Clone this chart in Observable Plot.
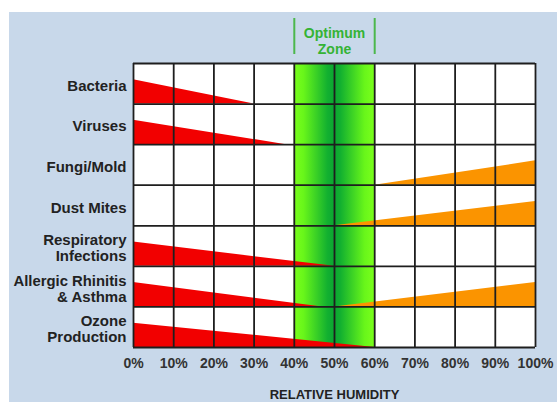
<!DOCTYPE html>
<html>
<head>
<meta charset="utf-8">
<script src="https://cdn.jsdelivr.net/npm/d3@7"></script>
<script src="https://cdn.jsdelivr.net/npm/@observablehq/plot@0.6"></script>
<style>
  html, body { margin: 0; padding: 0; background: #ffffff; overflow: hidden; width: 557px; height: 402px; }
  #wrap { position: absolute; left: 9px; top: 12px; width: 548px; height: 390px; background: #c8d8ea; }
  #wrap svg { display: block; }
</style>
</head>
<body>
<div id="wrap"></div>
<script>
// ---- data ----
const categories = [
  "Bacteria",
  "Viruses",
  "Fungi/Mold",
  "Dust Mites",
  "Respiratory\nInfections",
  "Allergic Rhinitis\n& Asthma",
  "Ozone\nProduction"
];
const humidityTicks = [0, 10, 20, 30, 40, 50, 60, 70, 80, 90, 100];
const tickLabels = ["0%", "10%", "20%", "30%", "40%", "50%", "60%", "70%", "80%", "90%", "100%"];
// red wedge: full at 0% RH, shrinking to nothing at this RH (null = none)
const lowHumidityEnd = [30, 38, null, null, 50, 47, 60];
// orange wedge: nothing at this RH, growing to full at 100% RH (null = none)
const highHumidityStart = [null, null, 60, 50, null, 50, null];
const optimumZone = [40, 60];
const zoneLabel = "Optimum\nZone";
const axisTitle = "RELATIVE HUMIDITY";

// ---- build wedge table ----
const WEDGE = 0.6; // share of a row filled at full effect
const wedges = [];
categories.forEach((c, i) => {
  if (lowHumidityEnd[i] != null) {
    wedges.push({key: "low" + i, kind: "low", x: 0, y1: i + 1, y2: i + 1 - WEDGE});
    wedges.push({key: "low" + i, kind: "low", x: lowHumidityEnd[i], y1: i + 1, y2: i + 1});
  }
  if (highHumidityStart[i] != null) {
    wedges.push({key: "high" + i, kind: "high", x: highHumidityStart[i], y1: i + 1, y2: i + 1});
    wedges.push({key: "high" + i, kind: "high", x: 100, y1: i + 1, y2: i + 1 - WEDGE});
  }
});
const rowLines = d3.range(categories.length + 1);
const FONT = "'Liberation Sans', Arial, Helvetica, sans-serif";

const plot = Plot.plot({
  width: 548,
  height: 390,
  marginLeft: 124,
  marginRight: 22,
  marginTop: 51,
  marginBottom: 55,
  style: {background: "transparent", fontFamily: FONT, fontWeight: "bold", overflow: "visible"},
  x: {domain: [0, 100], axis: null},
  y: {domain: [categories.length, 0], axis: null},
  marks: [
    Plot.frame({fill: "white", stroke: "none"}),
    Plot.rect([optimumZone], {x1: d => d[0], x2: d => d[1], fill: "url(#optimumGrad)"}),
    Plot.area(wedges, {
      x1: "x", y1: "y1", y2: "y2", z: "key", curve: "linear",
      fill: d => d.kind === "low" ? "#f20000" : "#fb9400"
    }),
    Plot.ruleY(rowLines, {stroke: "#1e1e1e", strokeWidth: 1.8}),
    Plot.ruleX(humidityTicks, {stroke: "#1e1e1e", strokeWidth: 1.8}),
    Plot.ruleX(optimumZone, {stroke: "#4cb84c", strokeWidth: 2, insetTop: -45, insetBottom: 293}),
    Plot.text([zoneLabel], {
      x: () => (optimumZone[0] + optimumZone[1]) / 2,
      frameAnchor: "top", lineAnchor: "bottom", dy: -10, lineHeight: 1.1,
      fontSize: 14, fill: "#34b334"
    }),
    Plot.text(categories, {
      y: (d, i) => i + 0.5, frameAnchor: "left", textAnchor: "end", dx: -7, dy: 2,
      lineHeight: 1.07, fontSize: 15, fill: "#222222"
    }),
    Plot.text(humidityTicks, {
      x: d => d, text: (d, i) => tickLabels[i], frameAnchor: "bottom", lineAnchor: "top",
      dy: 11, fontSize: 14, fill: "#333333"
    }),
    Plot.text([axisTitle], {
      frameAnchor: "bottom", lineAnchor: "bottom", dy: 51, fontSize: 13, fill: "#222222"
    })
  ]
});

// gradient for the optimum zone
const ns = "http://www.w3.org/2000/svg";
const defs = document.createElementNS(ns, "defs");
const grad = document.createElementNS(ns, "linearGradient");
grad.setAttribute("id", "optimumGrad");
grad.setAttribute("x1", "0"); grad.setAttribute("x2", "1");
grad.setAttribute("y1", "0"); grad.setAttribute("y2", "0");
[[0, "#7aff1c"], [0.12, "#68f61a"], [0.42, "#12b030"], [0.5, "#0ba632"], [0.58, "#12b030"], [0.88, "#68f61a"], [1, "#7aff1c"]]
  .forEach(([o, c]) => {
    const s = document.createElementNS(ns, "stop");
    s.setAttribute("offset", o); s.setAttribute("stop-color", c);
    grad.appendChild(s);
  });
defs.appendChild(grad);
plot.insertBefore(defs, plot.firstChild);

document.getElementById("wrap").appendChild(plot);

// fit over-long row labels into the left margin
plot.querySelectorAll("tspan").forEach(t => {
  if (t.textContent === "Allergic Rhinitis" && t.getComputedTextLength() > 113) {
    t.setAttribute("textLength", 113);
    t.setAttribute("lengthAdjust", "spacingAndGlyphs");
  }
});
</script>
</body>
</html>
